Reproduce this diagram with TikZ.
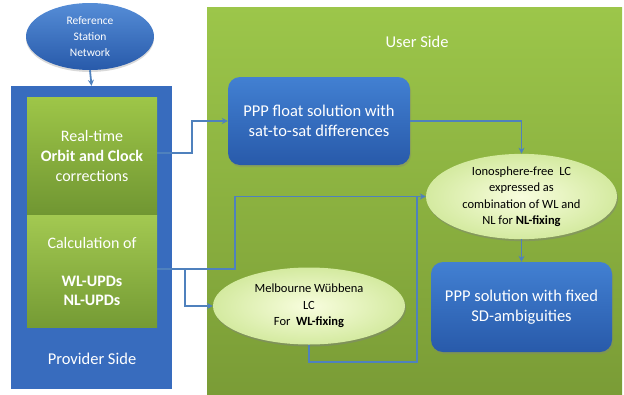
\documentclass[tikz,border=0pt]{standalone}
\usepackage{fontspec}
\setmainfont{Carlito}
\usetikzlibrary{arrows.meta,shapes.geometric,shadows}
\definecolor{conncol}{RGB}{79,129,189}
\definecolor{provblue}{RGB}{56,108,190}
\definecolor{usertop}{RGB}{156,198,74}
\definecolor{userbot}{RGB}{122,156,54}
\definecolor{gtop}{RGB}{158,198,72}
\definecolor{gbot}{RGB}{112,150,50}
\definecolor{btop}{RGB}{66,128,210}
\definecolor{bbot}{RGB}{40,90,170}
\definecolor{ein}{RGB}{248,253,222}
\definecolor{eout}{RGB}{212,234,160}
\tikzset{
  conn/.style={draw=conncol,line width=1.8pt,-{Stealth[length=6pt,width=6pt]}},
  connline/.style={draw=conncol,line width=1.8pt},
  greenbox/.style={rectangle,draw=none,top color=gtop,bottom color=gbot,
     minimum width=130pt,text=white,align=center,inner sep=0pt},
  bluebox/.style={rectangle,rounded corners=12pt,draw=none,top color=btop,bottom color=bbot,
     text=white,align=center,font=\fontsize{16.5}{20}\selectfont,
     drop shadow={opacity=0.35,shadow xshift=1pt,shadow yshift=-2pt}},
  lightell/.style={ellipse,draw=none,inner color=ein,outer color=eout,
     align=center,font=\fontsize{12.5}{16.5}\selectfont,inner sep=0pt,
     drop shadow={opacity=0.45,shadow xshift=1pt,shadow yshift=-2pt}},
  lbl/.style={text=white,inner sep=0pt}
}
\begin{document}
\begin{tikzpicture}[x=1pt,y=-1pt]
\useasboundingbox (0,0) rectangle (624,394);
% user side background
\node[rectangle,draw=none,top color=usertop,bottom color=userbot,
  minimum width=415pt,minimum height=388pt,inner sep=0pt] (user) at (414.5,201) {};
\node[lbl,font=\fontsize{16.5}{20}\selectfont] (usertitle) at (417,42) {User Side};
% provider
\node[rectangle,draw=none,fill=provblue,minimum width=161pt,minimum height=303pt,inner sep=0pt]
  (prov) at (91.5,237.5) {};
\node[lbl,font=\fontsize{16.5}{20}\selectfont] (provtitle) at (92,359) {Provider Side};
\node[greenbox,minimum height=118pt,font=\fontsize{16}{20}\selectfont] (g1) at (92,156)
  {Real-time\\\textbf{Orbit and Clock}\\corrections};
\node[greenbox,minimum height=112pt,font=\fontsize{16}{19}\selectfont,
  top color=gtop!95!white,bottom color=gbot!90!gtop] (g2) at (92,271)
  {Calculation of\\[19pt]\textbf{WL-UPDs}\\\textbf{NL-UPDs}};
% reference station ellipse
\node[ellipse,draw=none,top color=btop!90!white,bottom color=bbot,minimum width=128pt,
  minimum height=67pt,inner sep=0pt,text=white,align=center,
  font=\fontsize{11.5}{16}\selectfont,
  drop shadow={opacity=0.3,shadow xshift=0pt,shadow yshift=-2pt}] (ref) at (90,36.5)
  {Reference\\Station\\Network};
% user side nodes
\node[bluebox,minimum width=182pt,minimum height=88pt] (float) at (319,121)
  {PPP float solution with\\sat-to-sat differences};
\node[lightell,minimum width=191pt,minimum height=75pt] (ion) at (521.5,196.5)
  {Ionosphere-free\ \ LC\\expressed as\\combination of WL and\\NL for \textbf{NL-fixing}};
\node[bluebox,minimum width=181pt,minimum height=90pt] (fixed) at (521.5,307)
  {PPP solution with fixed\\SD-ambiguities};
\node[lightell,minimum width=192pt,minimum height=77pt] (mw) at (309,306)
  {Melbourne W\"ubbena\\LC\\For\ \ \textbf{WL-fixing}};
% connectors
\coordinate (s1) at ([yshift=3pt]g1.east);
\coordinate (s2) at ([yshift=2pt]g2.east);
\draw[conn] (ref.south) -- (prov.north);
\draw[conn] (s1) -- ++(35,0) |- (float.west);
\draw[conn] (float.east) -| (ion.north);
\draw[connline] (mw.south) -- ++(0,17) -| ([xshift=-9pt]ion.west);
\draw[conn] (s2) -- ++(78,0) |- (ion.west);
\draw[conn] (s2) -- ++(28,0) |- (mw.west);
\draw[conn] (ion.south) -- (fixed.north);
\end{tikzpicture}
\end{document}
